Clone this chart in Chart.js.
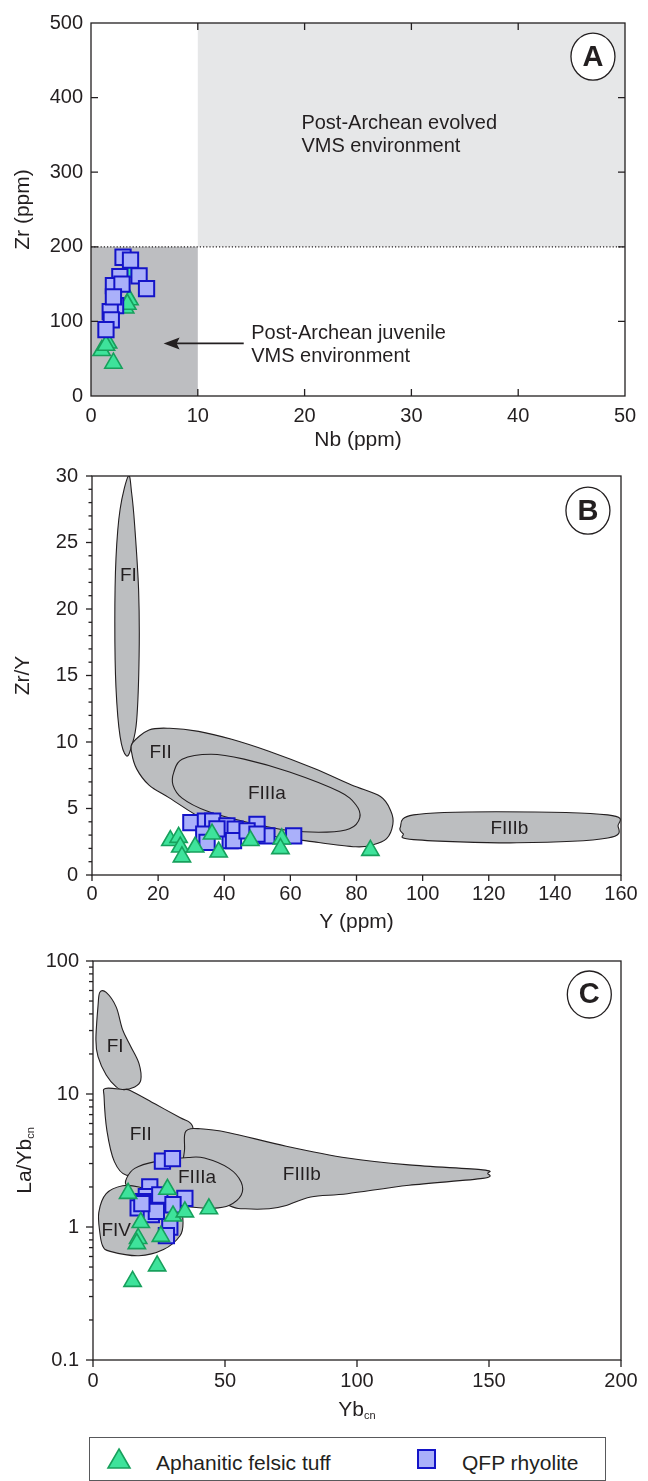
<!DOCTYPE html>
<html>
<head>
<meta charset="utf-8">
<script src="https://cdn.jsdelivr.net/npm/chart.js@4.4.1/dist/chart.umd.min.js"></script>
<style>
html, body { margin: 0; padding: 0; background: #fff; }
body { width: 648px; height: 1481px; position: relative; overflow: hidden; font-family: "Liberation Sans", Arial, sans-serif; color: #231f20; }
canvas { position: absolute; left: 0; }
#legend { position: absolute; left: 89px; top: 1437px; width: 517px; height: 44px; border: 1px solid #58595b; box-sizing: border-box; }
#legend svg { position: absolute; }
#legend span { position: absolute; font-size: 21px; line-height: 24px; top: 13px; white-space: nowrap; }
</style>
</head>
<body>
<canvas id="chartA" width="648" height="450" style="top:0px"></canvas>
<canvas id="chartB" width="648" height="485" style="top:450px"></canvas>
<canvas id="chartC" width="648" height="500" style="top:935px"></canvas>
<div id="legend">
  <svg width="26" height="24" style="left:16px;top:9px"><polygon points="13,2 24,21 2,21" fill="#3ee39b" stroke="#17a05c" stroke-width="1.6"/></svg>
  <span style="left:66px">Aphanitic felsic tuff</span>
  <svg width="22" height="22" style="left:326px;top:10px"><rect x="2" y="2" width="17" height="18" fill="#aab0fa" stroke="#1414c8" stroke-width="2"/></svg>
  <span style="left:372px">QFP rhyolite</span>
</div>
<script>
// ---- Panel A: Zr vs Nb ----
const tuffNbA = [1.0, 2.1, 1.6, 1.4, 3.6, 3.2, 3.4, 3.7];
const tuffZrA = [61, 44, 71, 68, 129, 118, 123, 166];
const qfpNbA = [3.0, 3.7, 2.7, 4.5, 5.2, 2.1, 2.9, 2.3, 1.8, 1.9, 1.4, 2.1];
const qfpZrA = [186, 182, 160, 161, 144, 148, 150, 121, 113, 102, 89, 133];
const ticksXA = [0, 10, 20, 30, 40, 50];
const ticksYA = [0, 100, 200, 300, 400, 500];

// ---- Panel B: Zr/Y vs Y ----
const tuffYB = [23.7, 26.2, 26.7, 27.2, 31.2, 36.3, 38.3, 47.9, 57.4, 57.0, 84.2];
const tuffZrYB = [2.59, 2.83, 2.10, 1.36, 2.10, 3.08, 1.73, 2.59, 2.71, 1.98, 1.85];
const qfpYB = [29.9, 34.3, 36.5, 40.8, 43.3, 41.8, 49.9, 52.9, 61.0, 33.8, 34.8, 42.8, 46.9, 49.9, 37.8];
const qfpZrYB = [3.93, 4.05, 4.05, 3.69, 3.44, 2.59, 3.81, 2.95, 2.95, 3.08, 2.46, 2.59, 3.32, 3.08, 3.47];
const ticksXB = [0, 20, 40, 60, 80, 100, 120, 140, 160];
const ticksYB = [0, 5, 10, 15, 20, 25, 30];

// ---- Panel C: La/Yb(cn) vs Yb(cn) ----
const tuffYbC = [13.3, 28.2, 18.1, 30.3, 34.8, 43.9, 17.1, 25.7, 16.6, 24.3, 15.0];
const tuffLaYbC = [1.79, 1.92, 1.08, 1.21, 1.30, 1.37, 0.82, 0.85, 0.75, 0.51, 0.39];
const qfpYbC = [26.3, 30.1, 21.5, 20.2, 17.1, 25.3, 34.8, 30.3, 22.1, 29.1, 27.8, 19.0, 24.0, 18.5];
const qfpLaYbC = [3.13, 3.27, 2.0, 1.69, 1.39, 1.74, 1.64, 1.47, 1.24, 1.0, 0.86, 1.55, 1.31, 1.5];
const ticksXC = [0, 50, 100, 150, 200];
const ticksYC = [0.1, 1, 10, 100];

// discrimination fields (outline vertices in data units)
const fieldFI_B = [[11,30],[12,28.7],[12.9,26.3],[14.1,21.4],[14.25,16.5],[13.5,11.6],[12,9.7],[10.4,8.96],[8.5,10.4],[7.25,14.1],[6.9,19],[7.25,23.8],[8.5,27.5]];
const fieldFII_B = [[12.25,9.93],[17.25,10.9],[23.5,11.03],[32.25,10.8],[42.25,10.2],[53.5,9.3],[67.25,8.0],[78.5,6.76],[87.25,5.9],[90.4,4.8],[91,3.83],[89.1,2.73],[84.75,2.25],[79.75,2.12],[67.25,2.49],[47.25,3.22],[34.75,4.08],[23.5,5.78],[17.25,6.76],[13.5,7.98],[12,9.2]];
const fieldFIIIa_B = [[24.75,7.74],[27.25,8.71],[36,9.08],[46,8.71],[59.75,7.74],[74.75,6.27],[79.75,5.3],[81,4.32],[77.9,3.47],[71,3.22],[59.75,3.34],[47.25,3.95],[34.75,4.81],[27.25,5.78],[24.5,6.76]];
const fieldFIIIb_B = [[93.25,3.59],[97.25,4.52],[122.25,4.76],[156,4.52],[159.1,3.71],[156,2.78],[128.5,2.42],[97.25,2.66],[94.1,3.1]];

const fieldFI_C = [[2.6,58.2],[5,58],[8.8,45],[11.2,30.5],[14.3,22.8],[17.4,17],[18.1,12.7],[15.8,11.3],[11.2,10.8],[8.8,11.3],[5,13.9],[1.9,19.1],[1.1,25.6],[1.9,46]];
const fieldFII_C = [[4.65,11],[11.2,10.8],[14.3,10.6],[23.6,8.4],[32.9,6.65],[36.7,6.1],[37.8,5.42],[35.2,4.68],[35.2,3.3],[29.8,3.1],[18.9,2.76],[12.7,2.45],[8.1,3.1],[5.3,5.26],[4.2,9.46]];
const fieldFIIIb_C = [[35.2,5.26],[40.6,5.48],[51.5,5.12],[73.2,4.05],[96.4,3.3],[119.7,2.93],[147.6,2.69],[149.5,2.53],[147.6,2.32],[119.7,2.06],[96.4,1.78],[82.5,1.68],[73.2,1.45],[66.7,1.37],[57.7,1.37],[51.5,1.45],[35.2,2.18],[34.7,3.93]];
const fieldFIIIa_C = [[12.7,2.32],[15.8,2.76],[23.6,3.1],[36,3.33],[42.2,3.3],[51.5,2.76],[56.1,2.18],[56.1,1.73],[51.5,1.45],[45.3,1.38],[39.1,1.40],[32.9,1.45],[26.7,1.54],[17.4,1.83],[12.7,2.06]];
const fieldFIV_C = [[11.2,2.04],[5,1.78],[2.2,1.29],[2.6,0.906],[3.7,0.718],[6.5,0.656],[17.4,0.608],[26.7,0.676],[32.9,0.855],[34.1,1.08],[32.9,1.37],[26.7,1.73],[17.4,2.0]];

const INK = '#231f20';
const FIELD = '#bcbec0';
const FONT = '"Liberation Sans", Arial, sans-serif';
Chart.defaults.font.family = FONT;
Chart.defaults.color = INK;

function pairs(xs, ys) { return xs.map((v, i) => ({x: v, y: ys[i]})); }

// closed Catmull-Rom curve through pixel points
function smoothPath(ctx, p) {
  const n = p.length;
  ctx.moveTo(p[0][0], p[0][1]);
  for (let i = 0; i < n; i++) {
    const p0 = p[(i - 1 + n) % n], p1 = p[i], p2 = p[(i + 1) % n], p3 = p[(i + 2) % n];
    ctx.bezierCurveTo(p1[0] + (p2[0] - p0[0]) / 6, p1[1] + (p2[1] - p0[1]) / 6,
                      p2[0] - (p3[0] - p1[0]) / 6, p2[1] - (p3[1] - p1[1]) / 6, p2[0], p2[1]);
  }
  ctx.closePath();
}

function drawParts(ctx, parts, cx, cy) {
  let w = 0;
  parts.forEach(p => { ctx.font = p.size + 'px ' + FONT; w += ctx.measureText(p.t).width; });
  let x = cx - w / 2;
  ctx.textAlign = 'left';
  ctx.textBaseline = 'middle';
  parts.forEach(p => {
    ctx.font = p.size + 'px ' + FONT;
    ctx.fillText(p.t, x, cy + (p.dy || 0));
    x += ctx.measureText(p.t).width;
  });
}

function makeDecor(spec) {
  return {
    id: 'decor',
    beforeDatasetsDraw(chart) {
      const {ctx, chartArea: a, scales: {x, y}} = chart;
      const px = v => x.getPixelForValue(v), py = v => y.getPixelForValue(v);
      ctx.save();
      ctx.beginPath(); ctx.rect(a.left, a.top, a.width, a.height); ctx.clip();
      (spec.boxes || []).forEach(b => {
        ctx.fillStyle = b.color;
        ctx.fillRect(px(b.x0), py(b.y1), px(b.x1) - px(b.x0), py(b.y0) - py(b.y1));
      });
      if (spec.dotted !== undefined) {
        ctx.beginPath();
        ctx.setLineDash([1.2, 2]);
        ctx.lineWidth = 1.2;
        ctx.strokeStyle = INK;
        ctx.moveTo(a.left, py(spec.dotted)); ctx.lineTo(a.right, py(spec.dotted));
        ctx.stroke();
        ctx.setLineDash([]);
      }
      (spec.fields || []).forEach(f => {
        ctx.beginPath();
        smoothPath(ctx, f.map(q => [px(q[0]), py(q[1])]));
        ctx.fillStyle = FIELD; ctx.fill();
        ctx.lineWidth = 1.1; ctx.strokeStyle = INK; ctx.stroke();
      });
      ctx.fillStyle = INK;
      (spec.labels || []).forEach(l => {
        ctx.font = (l.size || 19) + 'px ' + FONT;
        ctx.textAlign = l.align || 'center';
        ctx.textBaseline = 'middle';
        ctx.fillText(l.t, px(l.x), py(l.y));
      });
      if (spec.arrow) {
        const s = spec.arrow;
        const x0 = px(s.from), x1 = px(s.to), yy = py(s.y);
        ctx.beginPath(); ctx.lineWidth = 1.6; ctx.strokeStyle = INK;
        ctx.moveTo(x0, yy); ctx.lineTo(x1 + 10, yy); ctx.stroke();
        ctx.beginPath(); ctx.moveTo(x1, yy); ctx.lineTo(x1 + 16, yy - 6); ctx.lineTo(x1 + 13, yy); ctx.lineTo(x1 + 16, yy + 6); ctx.closePath();
        ctx.fill();
      }
      ctx.restore();
    },
    afterDatasetsDraw(chart) {
      const {ctx, chartArea: a, scales: {x, y}} = chart;
      ctx.save();
      ctx.strokeStyle = INK;
      ctx.lineWidth = 1.3;
      ctx.strokeRect(a.left, a.top, a.width, a.height);
      const t = spec.ticks;
      const tickX = (vals, len) => vals.forEach(v => {
        const xx = x.getPixelForValue(v);
        ctx.beginPath();
        if (t.inward) {
          ctx.moveTo(xx, a.bottom); ctx.lineTo(xx, a.bottom - len);
          ctx.moveTo(xx, a.top); ctx.lineTo(xx, a.top + len);
        } else {
          ctx.moveTo(xx, a.bottom); ctx.lineTo(xx, a.bottom + len);
        }
        ctx.stroke();
      });
      const tickY = (vals, len) => vals.forEach(v => {
        const yy = y.getPixelForValue(v);
        ctx.beginPath();
        if (t.inward) {
          ctx.moveTo(a.left, yy); ctx.lineTo(a.left + len, yy);
          ctx.moveTo(a.right, yy); ctx.lineTo(a.right - len, yy);
        } else {
          ctx.moveTo(a.left, yy); ctx.lineTo(a.left - len, yy);
        }
        ctx.stroke();
      });
      tickX(t.xMajor, t.major);
      tickY(t.yMajor, t.major);
      if (t.yMinor) tickY(t.yMinor, t.minor);
      // axis titles
      ctx.fillStyle = INK;
      drawParts(ctx, spec.xTitle, (a.left + a.right) / 2, spec.xTitleY);
      ctx.save();
      ctx.translate(spec.yTitleX, (a.top + a.bottom) / 2);
      ctx.rotate(-Math.PI / 2);
      drawParts(ctx, spec.yTitle, 0, 0);
      ctx.restore();
      // panel badge
      const b = spec.badge;
      const bx = x.getPixelForValue(b.x), by = y.getPixelForValue(b.y);
      ctx.beginPath();
      ctx.ellipse(bx, by, 22, 23.5, 0, 0, Math.PI * 2);
      ctx.fillStyle = '#fff'; ctx.fill();
      ctx.lineWidth = 1.3; ctx.stroke();
      ctx.fillStyle = INK;
      ctx.font = 'bold 29px ' + FONT;
      ctx.textAlign = 'center'; ctx.textBaseline = 'middle';
      ctx.fillText(b.t, bx, by + 1);
      ctx.restore();
    }
  };
}

function tuffSet(data) {
  return { label: 'Aphanitic felsic tuff', data, pointStyle: 'triangle', pointRadius: 10, pointHoverRadius: 10,
           backgroundColor: '#3ee39b', borderColor: '#17a05c', borderWidth: 1.6 };
}
function qfpSet(data) {
  return { label: 'QFP rhyolite', data, pointStyle: 'rect', pointRadius: 10.8, pointHoverRadius: 10.8,
           backgroundColor: '#aab0fa', borderColor: '#1414c8', borderWidth: 2 };
}

function axis(opt) {
  return {
    type: opt.type || 'linear',
    min: opt.min, max: opt.max,
    afterBuildTicks: s => { s.ticks = opt.ticks.map(v => ({value: v})); },
    ticks: { font: {size: 20}, color: INK, padding: opt.pad, maxRotation: 0, autoSkip: false,
             callback: v => String(v) },
    grid: { display: false, drawTicks: false },
    border: { display: false },
    afterFit: s => { if (opt.w !== undefined) s.width = opt.w; if (opt.h !== undefined) s.height = opt.h; }
  };
}

function makeChart(id, datasets, sx, sy, pad, spec) {
  return new Chart(document.getElementById(id), {
    type: 'scatter',
    data: { datasets },
    options: {
      responsive: false, animation: false, events: [],
      layout: { padding: pad },
      plugins: { legend: { display: false }, tooltip: { enabled: false } },
      scales: { x: sx, y: sy }
    },
    plugins: [makeDecor(spec)]
  });
}

const logMinor = [0.2,0.3,0.4,0.5,0.6,0.7,0.8,0.9, 2,3,4,5,6,7,8,9, 20,30,40,50,60,70,80,90];

// Panel A
makeChart('chartA',
  [qfpSet(pairs(qfpNbA, qfpZrA)), tuffSet(pairs(tuffNbA, tuffZrA))],
  axis({min: 0, max: 50, ticks: ticksXA, pad: 8, h: 54}),
  axis({min: 0, max: 500, ticks: ticksYA, pad: 8, w: 91}),
  {top: 23, right: 23, left: 0, bottom: 0},
  {
    boxes: [{x0: 0, x1: 10, y0: 0, y1: 200, color: '#bdbec1'}, {x0: 10, x1: 50, y0: 200, y1: 500, color: '#e6e7e8'}],
    dotted: 200,
    labels: [
      {t: 'Post-Archean evolved', x: 19.7, y: 365, align: 'left', size: 20},
      {t: 'VMS environment', x: 19.7, y: 334, align: 'left', size: 20},
      {t: 'Post-Archean juvenile', x: 15, y: 84, align: 'left', size: 20},
      {t: 'VMS environment', x: 15, y: 53, align: 'left', size: 20}
    ],
    arrow: {from: 14.3, to: 6.8, y: 70.5},
    ticks: {inward: true, xMajor: [10, 20, 30, 40], yMajor: [100, 200, 300, 400], major: 7},
    xTitle: [{t: 'Nb (ppm)', size: 21}], xTitleY: 440,
    yTitle: [{t: 'Zr (ppm)', size: 21}], yTitleX: 23,
    badge: {t: 'A', x: 47, y: 455}
  });

// Panel B
const minorB = [];
for (let v = 1; v < 30; v++) if (v % 5) minorB.push(v);
makeChart('chartB',
  [tuffSet(pairs(tuffYB, tuffZrYB)), qfpSet(pairs(qfpYB, qfpZrYB))],
  axis({min: 0, max: 160, ticks: ticksXB, pad: 7, h: 60}),
  axis({min: 0, max: 30, ticks: ticksYB, pad: 14, w: 92}),
  {top: 16, right: 27, left: 0, bottom: 0},
  {
    fields: [fieldFI_B, fieldFII_B, fieldFIIIb_B, fieldFIIIa_B],
    labels: [
      {t: 'FI', x: 11, y: 22.5}, {t: 'FII', x: 20.75, y: 9.2},
      {t: 'FIIIa', x: 52.9, y: 6.08}, {t: 'FIIIb', x: 126.25, y: 3.51}
    ],
    ticks: {inward: false, xMajor: ticksXB, yMajor: ticksYB, yMinor: minorB, major: 6, minor: 3.5},
    xTitle: [{t: 'Y (ppm)', size: 21}], xTitleY: 472,
    yTitle: [{t: 'Zr/Y', size: 21}], yTitleX: 23,
    badge: {t: 'B', x: 150, y: 27.4}
  });

// Panel C
const yC = axis({type: 'logarithmic', min: 0.1, max: 100, ticks: ticksYC, pad: 14, w: 93});
makeChart('chartC',
  [tuffSet(pairs(tuffYbC, tuffLaYbC)), qfpSet(pairs(qfpYbC, qfpLaYbC))],
  axis({min: 0, max: 200, ticks: ticksXC, pad: 9, h: 75}),
  yC,
  {top: 13, right: 27, left: 0, bottom: 0},
  {
    fields: [fieldFI_C, fieldFII_C, fieldFIIIb_C, fieldFIIIa_C, fieldFIV_C],
    labels: [
      {t: 'FI', x: 8.4, y: 22.8}, {t: 'FII', x: 18.1, y: 4.97}, {t: 'FIIIa', x: 39.4, y: 2.34},
      {t: 'FIIIb', x: 79.1, y: 2.45}, {t: 'FIV', x: 8.8, y: 0.933}
    ],
    ticks: {inward: false, xMajor: ticksXC, yMajor: ticksYC, yMinor: logMinor, major: 7, minor: 4},
    xTitle: [{t: 'Yb', size: 21}, {t: 'cn', size: 11, dy: 6}], xTitleY: 475,
    yTitle: [{t: 'La/Yb', size: 21}, {t: 'cn', size: 11, dy: 6}], yTitleX: 25,
    badge: {t: 'C', x: 188, y: 56}
  });
</script>
</body>
</html>
